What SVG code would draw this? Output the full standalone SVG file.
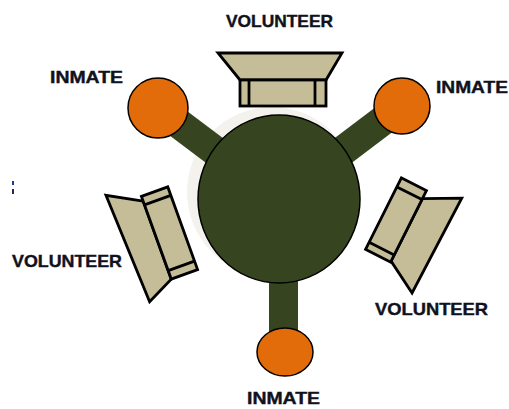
<svg xmlns="http://www.w3.org/2000/svg" width="509" height="409" viewBox="0 0 509 409">
<style>
.lbl{font-family:"Liberation Sans",Arial,sans-serif;font-weight:bold;font-size:17px;fill:#10121c;stroke:#10121c;stroke-width:0.4;}
.vol{fill:#c4bd97;stroke:#000;stroke-width:2.8;stroke-linejoin:miter;}
.cap{stroke:#000;stroke-width:2.8;}
.inm{fill:#e36c0a;stroke:#000;stroke-width:1.5;}
.arm{stroke:#36451f;stroke-width:30;}
</style>
<rect width="509" height="409" fill="#fff"/>
<g id="connectors">
<circle cx="272" cy="192" r="85" fill="#f3f2ec"/>
<line class="arm" x1="158" y1="108" x2="279" y2="199"/>
<line class="arm" x1="402" y1="106" x2="279" y2="199"/>
<rect x="269" y="199" width="29" height="153" fill="#36451f"/>
</g>
<g id="table">
<ellipse cx="279" cy="199" rx="81" ry="84" fill="#36451f" stroke="#000" stroke-width="1.5"/>
</g>
<g id="inmate-left">
<circle class="inm" cx="158" cy="108" r="30"/>
<text class="lbl" x="50" y="83" textLength="73" lengthAdjust="spacingAndGlyphs">INMATE</text>
</g>
<g id="inmate-right">
<circle class="inm" cx="402" cy="106" r="28"/>
<text class="lbl" x="436" y="93" textLength="72" lengthAdjust="spacingAndGlyphs">INMATE</text>
</g>
<g id="inmate-bottom">
<ellipse class="inm" cx="285" cy="352" rx="28" ry="24"/>
<text class="lbl" x="247" y="404" textLength="73" lengthAdjust="spacingAndGlyphs">INMATE</text>
</g>
<g id="volunteer-top">
<g transform="translate(283,93)">
<polygon class="vol" points="-43,-13 43,-13 59,-40 -65,-40"/>
<rect class="vol" x="-43" y="-13" width="86" height="26"/>
<line class="cap" x1="-34" y1="-13" x2="-34" y2="13"/>
<line class="cap" x1="32" y1="-13" x2="32" y2="13"/>
</g>
<text class="lbl" x="226" y="27" textLength="107" lengthAdjust="spacingAndGlyphs">VOLUNTEER</text>
</g>
<g id="volunteer-left">
<g transform="translate(169.5,233) rotate(-109.8)">
<polygon class="vol" points="39,-14 57,-47 -58,-42 -44,-14"/>
<rect class="vol" x="-44" y="-14" width="88" height="28"/>
<line class="cap" x1="35" y1="-14" x2="35" y2="14"/>
<line class="cap" x1="-35" y1="-14" x2="-35" y2="14"/>
</g>
<text class="lbl" x="12" y="267" textLength="110" lengthAdjust="spacingAndGlyphs">VOLUNTEER</text>
</g>
<g id="volunteer-right">
<g transform="translate(396,220) rotate(116.6)">
<polygon class="vol" points="-31,-14 -49,-49 58,-47 39,-14"/>
<rect class="vol" x="-40" y="-14" width="80" height="28"/>
<line class="cap" x1="-30" y1="-14" x2="-30" y2="14"/>
<line class="cap" x1="32" y1="-14" x2="32" y2="14"/>
</g>
<text class="lbl" x="375" y="315" textLength="113" lengthAdjust="spacingAndGlyphs">VOLUNTEER</text>
</g>
<g id="mark">
<rect x="12" y="181" width="2" height="4" fill="#1f3b8a"/>
<rect x="12" y="189" width="2" height="5" fill="#3a1f4a"/>
</g>
</svg>
